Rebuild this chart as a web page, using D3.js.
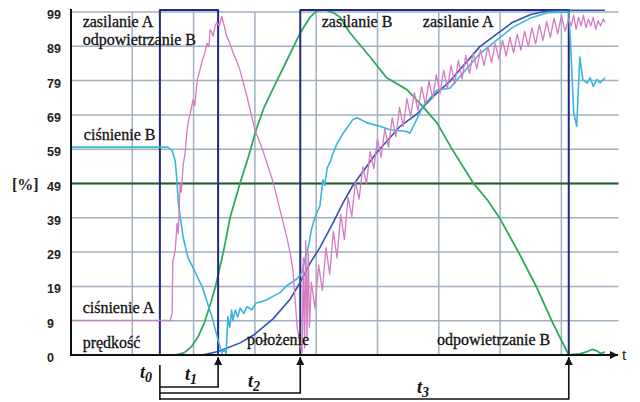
<!DOCTYPE html>
<html>
<head>
<meta charset="utf-8">
<script src="https://cdn.jsdelivr.net/npm/d3@7"></script>
<style>
  body { margin: 0; background: #fff; }
</style>
</head>
<body>
<svg id="chart"></svg>
<script>
// y ticks: grid every 9.9 %, labelled as on the original
const yTickValues = [0, 9.9, 19.8, 29.7, 39.6, 49.5, 59.4, 69.3, 79.2, 89.1, 99];
const yTickLabels = ["0", "9", "19", "29", "39", "49", "59", "69", "79", "89", "99"];
const xGrid = [1, 2, 3, 4, 5, 6, 7, 8];

const eventNames = ["0", "1", "2", "3"];
const eventTimes = [1.45, 2.40, 3.74, 8.12];

// zasilanie / odpowietrzanie signal
const valveSignal = [[0,0],[1.45,0],[1.45,99.6],[2.40,99.6],[2.40,0],[3.74,0],[3.74,99.6],[8.12,99.6],[8.12,0]];

// prędkość
const speed = [[0,0],[1.45,0],[1.70,0],[1.85,0.7],[1.97,2.5],[2.08,5.5],[2.18,9.5],[2.28,15],[2.36,20],[2.40,23],
  [2.50,31],[2.60,40],[2.76,49.7],[2.90,57.5],[3.02,65],[3.15,71.5],[3.30,77],[3.52,85],[3.74,93],[3.90,97.5],
  [4.01,99.3],[4.15,99.6],[4.30,98.6],[4.39,97.5],[4.55,93],[4.88,86],[5.15,80],[5.48,76.6],[5.74,71.7],[5.97,67],
  [6.23,59],[6.56,49.7],[6.79,44.8],[7.00,39.3],[7.32,29],[7.60,19.4],[7.86,9.2],[8.12,0],[8.30,0.3],[8.42,1],
  [8.50,1.6],[8.58,1.2],[8.63,0.5],[8.71,0.8]];

// położenie
const position = [[2.14,0],[2.40,1],[2.76,3.5],[3.00,6],[3.30,10.5],[3.57,16],[3.74,21],[3.90,26.5],[4.06,31],
  [4.27,38],[4.44,44],[4.60,49],[4.99,58.5],[5.37,66],[5.64,69.5],[5.90,74.5],[6.18,79],[6.67,89],[7.20,96],
  [7.50,98.3],[7.77,99.3],[8.12,99.5],[8.71,99.5]];

// ciśnienie B
const pressureB = [[0,60],[1.58,60],[1.65,59],[1.70,56],[1.73,50],[1.75,44],[1.78,40],[1.83,34],[1.91,28],[1.94,27],
  [2.14,19.7],[2.30,11],[2.40,4.3],[2.46,0.6],[2.50,1.5],[2.53,0.5],[2.56,11],[2.59,8],[2.62,13],[2.64,10],
  [2.68,13],[2.72,11],[2.76,13.5],[2.82,12],[2.87,14],[2.95,13],[3.02,15],[3.13,15.5],[3.20,16],[3.30,17],
  [3.41,18],[3.52,20],[3.69,22],[3.77,24],[3.82,28],[3.87,31],[3.92,36],[3.95,38],[4.01,41],[4.06,43],
  [4.11,50.6],[4.14,49],[4.18,54],[4.23,55.8],[4.27,58],[4.34,61],[4.44,64],[4.60,68],[4.67,68.5],[4.83,67],
  [5.04,66],[5.20,65],[5.48,64.5],[5.53,64],[5.64,68],[5.74,71.7],[5.97,76.5],[6.18,77],[6.67,87],[7.20,94.5],
  [7.50,97.3],[7.77,98.8],[8.12,99],[8.15,90],[8.20,70],[8.25,66],[8.28,78],[8.30,86],[8.33,82],[8.35,79.5],
  [8.42,78.5],[8.47,80],[8.52,77.5],[8.58,79.5],[8.63,78.5],[8.71,80]];

// ciśnienie A
const pressureA = [[0,10],[1.62,10],[1.65,12],[1.66,27],[1.70,30],[1.73,38],[1.75,35],[1.78,49.7],[1.80,47],
  [1.83,55],[1.86,58],[1.89,64.5],[1.92,68],[1.95,70],[1.99,73.7],[2.02,72],[2.06,79.5],[2.10,82],[2.14,85],
  [2.18,87],[2.22,90],[2.25,89],[2.27,94],[2.30,93],[2.32,92],[2.35,95],[2.38,96],[2.42,95],[2.46,97.7],
  [2.50,95],[2.54,92],[2.59,90],[2.65,87],[2.70,85],[2.76,82],[2.82,78],[2.87,74.6],[3.00,65],[3.13,59],
  [3.30,49.7],[3.52,34],[3.57,30],[3.62,24.6],[3.69,8],[3.74,3],[3.77,0.6],[3.79,28],[3.81,2],[3.83,33],
  [3.85,5],[3.87,30],[3.89,8],
  [3.92,21],[3.98,13.5],[4.04,26],[4.10,18.6],[4.16,31],[4.22,23.3],[4.28,35.7],[4.34,28],[4.40,40.5],[4.46,33.3],
  [4.52,45.5],[4.58,40],[4.64,50],[4.70,45],[4.76,54.3],[4.82,49.5],[4.88,58.7],[4.94,53.8],[5.00,62.4],[5.06,57],
  [5.12,65.3],[5.18,60],[5.24,68.5],[5.30,63],[5.36,71.5],[5.42,66],[5.48,74],[5.54,68.9],[5.60,75.7],[5.66,70.6],
  [5.72,77.4],[5.78,72.3],[5.84,79.1],[5.90,74],[5.96,80.9],[6.02,75.5],[6.08,82.2],[6.14,76.9],[6.20,83.6],
  [6.26,78.3],[6.32,85],[6.38,79.7],[6.44,86.5],[6.50,81.3],[6.56,87.2],[6.62,82.6],[6.68,88.1],[6.74,83.5],
  [6.80,89],[6.86,84.4],[6.92,89.9],[6.98,85.4],[7.04,90.9],[7.10,86.3],[7.16,91.7],[7.22,87.2],[7.28,92.6],
  [7.34,88],[7.40,93.5],[7.46,89],[7.52,94.4],[7.58,89.8],[7.64,95.3],[7.70,90.8],[7.76,96.2],[7.82,91.7],
  [7.88,97.2],[7.94,92.7],[8.00,98],[8.06,93.5],[8.12,97],[8.16,95],[8.20,98],[8.24,94],[8.28,97.5],[8.32,95],
  [8.36,98],[8.40,94.5],[8.44,97],[8.48,95],[8.52,97.5],[8.56,94],[8.60,96.5],[8.64,95],[8.68,97],[8.71,96]];

const labels = [
  {text: "zasilanie A", u: 0.19, v: 94.6},
  {text: "odpowietrzanie B", u: 0.19, v: 89.4},
  {text: "ciśnienie B", u: 0.21, v: 62},
  {text: "ciśnienie A", u: 0.19, v: 12},
  {text: "prędkość", u: 0.19, v: 2},
  {text: "położenie", u: 2.87, v: 2.9},
  {text: "zasilanie B", u: 4.09, v: 94.6},
  {text: "zasilanie A", u: 5.74, v: 94.6},
  {text: "odpowietrzanie B", u: 5.97, v: 2.9}
];

const serif = "'Liberation Serif', 'Times New Roman', 'DejaVu Serif', serif";
const width = 640, height = 402;
const svg = d3.select("#chart").attr("width", width).attr("height", height);

const x = d3.scaleLinear().domain([0, 9]).range([71, 71 + 9 * 61.3]);
const y = d3.scaleLinear().domain([0, 99]).range([355, 12]);

// grid
svg.append("g").selectAll("line").data(yTickValues.slice(1)).enter().append("line")
  .attr("x1", x(0)).attr("x2", x(8.93))
  .attr("y1", d => y(d)).attr("y2", d => y(d))
  .attr("stroke", "#9fb0c0").attr("stroke-width", 1.5);
svg.append("g").selectAll("line").data(xGrid).enter().append("line")
  .attr("x1", d => x(d)).attr("x2", d => x(d))
  .attr("y1", y(0)).attr("y2", y(99))
  .attr("stroke", "#9fb0c0").attr("stroke-width", 1.5);

// y tick labels
svg.append("g").selectAll("text").data(yTickValues).enter().append("text")
  .attr("x", 47).attr("y", d => y(d) + 7)
  .attr("font-family", "'Liberation Sans', Arial, sans-serif")
  .attr("font-weight", "bold").attr("font-size", 12.5)
  .attr("fill", "#222")
  .text((d, i) => yTickLabels[i]);

svg.append("text").attr("x", 12).attr("y", y(49.5) + 6)
  .attr("font-family", serif).attr("font-size", 16).attr("font-weight", "bold").attr("fill", "#222")
  .text("[%]");

// 49 line
svg.append("line").attr("x1", x(0)).attr("x2", x(8.93))
  .attr("y1", y(49.5)).attr("y2", y(49.5))
  .attr("stroke", "#1d5f2e").attr("stroke-width", 2.2);

const line = d3.line().x(d => x(d[0])).y(d => y(d[1]));

const series = [
  {data: speed, color: "#2faa5c", w: 1.8},
  {data: valveSignal, color: "#222a7e", w: 2},
  {data: position, color: "#3450b4", w: 1.6},
  {data: pressureB, color: "#3bb5dd", w: 1.6},
  {data: pressureA, color: "#d67ac2", w: 1.3}
];
svg.append("g").selectAll("path").data(series).enter().append("path")
  .attr("d", d => line(d.data))
  .attr("fill", "none")
  .attr("stroke", d => d.color)
  .attr("stroke-width", d => d.w)
  .attr("stroke-linejoin", "round");

// axes
const defs = svg.append("defs");
defs.append("marker").attr("id", "arr").attr("viewBox", "0 0 10 10")
  .attr("refX", 10).attr("refY", 5).attr("markerWidth", 8).attr("markerHeight", 8)
  .attr("markerUnits", "userSpaceOnUse").attr("orient", "auto")
  .append("path").attr("d", "M0,0L10,5L0,10Z").attr("fill", "#111");

svg.append("line").attr("x1", x(0)).attr("x2", x(0)).attr("y1", y(0) + 1).attr("y2", 9)
  .attr("stroke", "#111").attr("stroke-width", 2);
svg.append("line").attr("x1", x(0)).attr("x2", 618).attr("y1", y(0)).attr("y2", y(0))
  .attr("stroke", "#111").attr("stroke-width", 2).attr("marker-end", "url(#arr)");
svg.append("text").attr("x", 622).attr("y", y(0) + 5)
  .attr("font-family", serif).attr("font-size", 16).attr("fill", "#111").text("t");

// t-brackets
const br = svg.append("g").attr("stroke", "#111").attr("stroke-width", 1.6).attr("fill", "none");
br.append("line").attr("x1", x(eventTimes[0])).attr("x2", x(eventTimes[0])).attr("y1", 365).attr("y2", 400);
const rows = [387, 393, 399];
eventTimes.slice(1).forEach((t, i) => {
  br.append("path")
    .attr("d", `M${x(eventTimes[0])},${rows[i]}H${x(t)}V${y(0) + 2}`)
    .attr("marker-end", "url(#arr)");
});

const tPos = [[140, 378], [185, 380], [248, 387], [417, 393]];
eventNames.forEach((n, i) => {
  const t = svg.append("text").attr("x", tPos[i][0]).attr("y", tPos[i][1])
    .attr("font-family", serif).attr("fill", "#111")
    .attr("font-style", "italic").attr("font-weight", "bold").attr("font-size", 18);
  t.append("tspan").text("t");
  t.append("tspan").attr("dy", 4).attr("font-size", 14).text(n);
});

// series labels
svg.append("g").selectAll("text").data(labels).enter().append("text")
  .attr("x", d => x(d.u)).attr("y", d => y(d.v))
  .attr("font-family", serif).attr("font-size", 16).attr("fill", "#111")
  .attr("stroke", "#111").attr("stroke-width", 0.3)
  .text(d => d.text);
</script>
</body>
</html>
